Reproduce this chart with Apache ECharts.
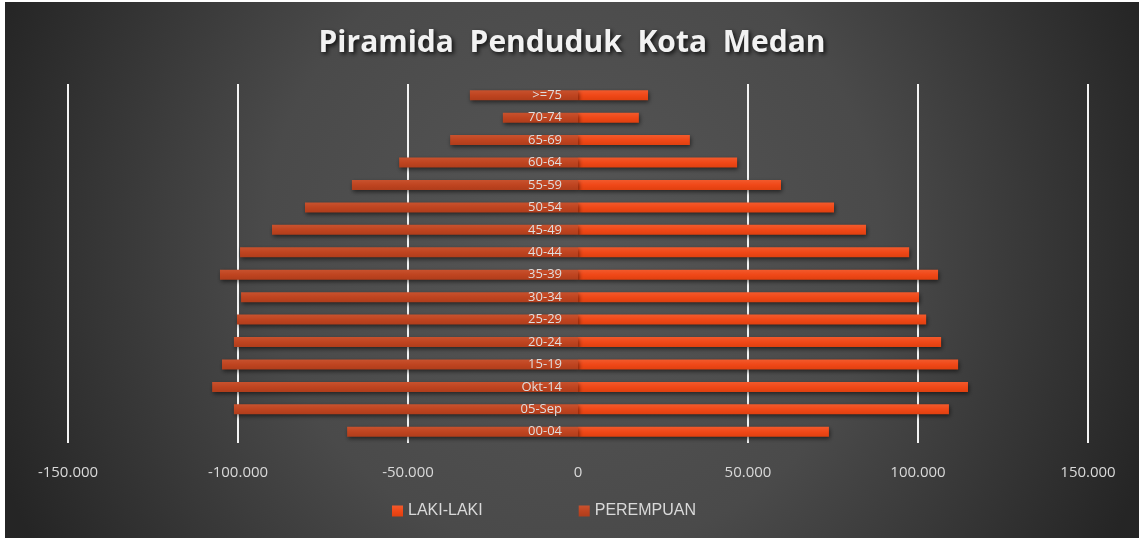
<!DOCTYPE html>
<html>
<head>
<meta charset="utf-8">
<script src="https://cdn.jsdelivr.net/npm/echarts@6/dist/echarts.min.js"></script>
<style>
html,body{margin:0;padding:0;background:#ffffff;width:1139px;height:538px;overflow:hidden;}
#chart{position:absolute;left:5px;top:2px;width:1134px;height:536px;}
</style>
</head>
<body>
<div id="chart"></div>
<script>
const categories = ['00-04','05-Sep','Okt-14','15-19','20-24','25-29','30-34','35-39','40-44','45-49','50-54','55-59','60-64','65-69','70-74','>=75'];
const lakiLaki = [73800,109100,114700,111800,106800,102400,100300,105900,97400,84700,75300,59700,46800,32900,17900,20600];
const perempuan = [-67900,-101200,-107600,-104700,-101200,-100300,-99100,-105300,-99400,-90000,-80300,-66500,-52600,-37600,-22100,-31800];
const xTicks = [-150000,-100000,-50000,0,50000,100000,150000];

function fmt(v){
  const s = Math.abs(v).toString().replace(/\B(?=(\d{3})+(?!\d))/g,'.');
  return (v<0?'-':'') + s;
}

const chart = echarts.init(document.getElementById('chart'));
const shadow = {shadowBlur:4, shadowOffsetY:2, shadowOffsetX:1, shadowColor:'rgba(0,0,0,0.55)'};
chart.setOption({
  backgroundColor: {
    type:'radial', x:0.5, y:0.45, r:1.15,
    colorStops:[{offset:0,color:'#565656'},{offset:0.5,color:'#4a4a4a'},{offset:1,color:'#252525'}]
  },
  title:{
    text:'Piramida  Penduduk  Kota  Medan',
    left:'center', top:21,
    textStyle:{color:'#f2f2f2', fontSize:30, fontWeight:'bold', fontFamily:'Open Sans',
      textShadowColor:'rgba(0,0,0,0.8)', textShadowBlur:4, textShadowOffsetX:2, textShadowOffsetY:2}
  },
  legend:{
    bottom:14, left:382, itemGap:96, itemWidth:11, itemHeight:11, icon:'rect',
    textStyle:{color:'#d9d9d9', fontSize:16, fontFamily:'Liberation Sans'},
    data:['LAKI-LAKI','PEREMPUAN']
  },
  grid:{left:63, right:51, top:82, bottom:95, containLabel:false},
  xAxis:{
    type:'value', min:-150000, max:150000, interval:50000,
    axisLine:{show:false}, axisTick:{show:false},
    axisLabel:{color:'#d9d9d9', fontSize:15, fontFamily:'Open Sans', margin:22, formatter:fmt},
    splitLine:{show:true, lineStyle:{width:2, color:['#f4f4f4','#f4f4f4','#f4f4f4','rgba(0,0,0,0)','#f4f4f4','#f4f4f4','#f4f4f4']}}
  },
  yAxis:{
    type:'category', data:categories, z:10, position:'left', offset:-510,
    axisLine:{show:false}, axisTick:{show:false},
    axisLabel:{color:'#dedede', fontSize:13, fontFamily:'Open Sans', margin:16, verticalAlign:'middle', padding:[4,0,0,0]}
  },
  series:[
    {
      name:'LAKI-LAKI', type:'bar', data:lakiLaki, barWidth:10, barGap:'-100%',
      itemStyle:Object.assign({color:{type:'linear',x:0,y:0,x2:0,y2:1,colorStops:[{offset:0,color:'#f25a2c'},{offset:0.5,color:'#f04818'},{offset:1,color:'#e0400f'}]}}, shadow)
    },
    {
      name:'PEREMPUAN', type:'bar', data:perempuan, barWidth:10, barGap:'-100%',
      itemStyle:Object.assign({color:{type:'linear',x:0,y:0,x2:0,y2:1,colorStops:[{offset:0,color:'#c8522e'},{offset:0.5,color:'#bf4420'},{offset:1,color:'#b03d1b'}]}}, shadow)
    }
  ]
});
</script>
</body>
</html>
